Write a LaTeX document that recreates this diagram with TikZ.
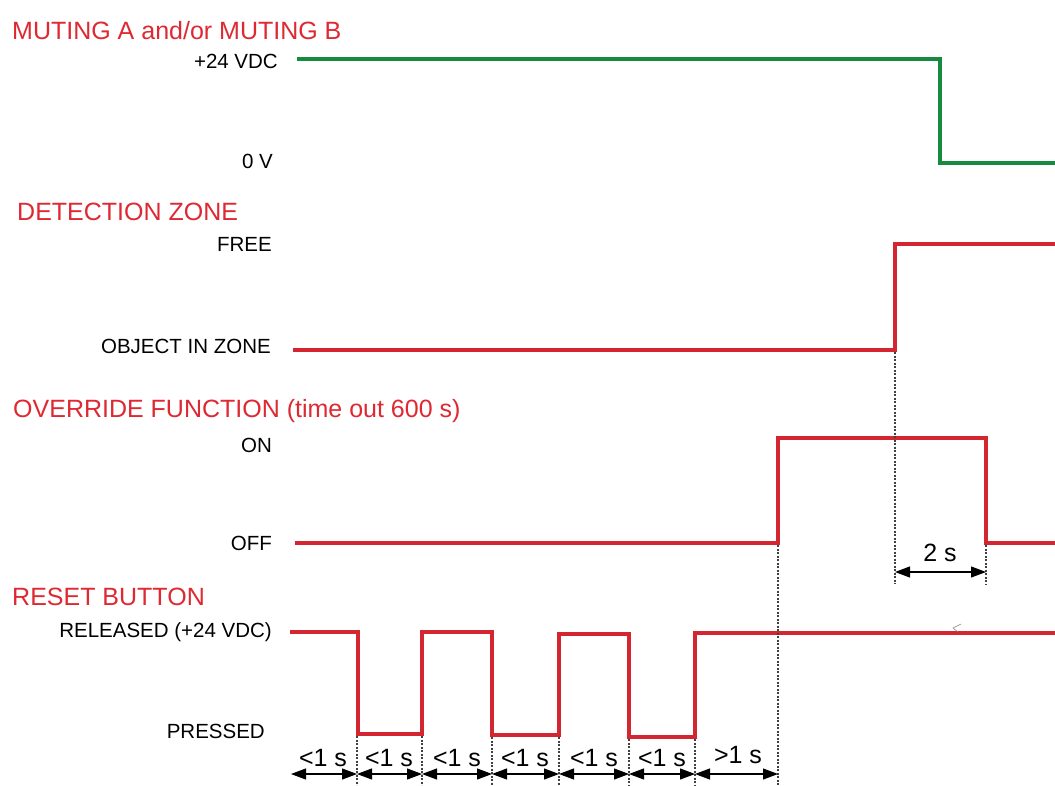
\documentclass[tikz,border=0pt]{standalone}
\usepackage{fontspec}
\setmainfont{Liberation Sans}
\usetikzlibrary{arrows.meta}
\definecolor{sigred}{RGB}{212,38,48}
\definecolor{titred}{RGB}{222,40,50}
\definecolor{siggreen}{RGB}{22,138,62}
\tikzset{
  title/.style={anchor=west,inner sep=0pt,text=titred,font=\fontsize{25}{29}\selectfont},
  lvl/.style={anchor=east,inner sep=0pt,font=\fontsize{20.5}{24}\selectfont},
  redsig/.style={draw=sigred,line width=4.5pt,line join=miter},
  greensig/.style={draw=siggreen,line width=4pt,line join=miter},
  guide/.style={draw=black!75,line width=1.8pt,dash pattern=on 2.2pt off 1.3pt},
  dim/.style={draw=black,line width=1.1pt,{Triangle[length=15pt,width=11pt]}-{Triangle[length=15pt,width=11pt]}},
  dimlab/.style={inner sep=0pt,font=\fontsize{25}{29}\selectfont}
}
\begin{document}
\begin{tikzpicture}[x=1pt,y=-1pt]
\useasboundingbox (0,0) rectangle (1055,785);
% titles
\node[title] (t1) at (12,31) {MUTING A and/or MUTING B};
\node[title] (t2) at (17,212) {DETECTION ZONE};
\node[title] (t3) at (13,411) {OVERRIDE FUNCTION (time out 600 s)};
\node[title] (t4) at (12,597) {RESET BUTTON};
% level labels
\node[lvl] (l1) at (278,61) {+24 VDC};
\node[lvl] (l2) at (273,161) {0 V};
\node[lvl] (l3) at (272,244) {FREE};
\node[lvl] (l4) at (271,346) {OBJECT IN ZONE};
\node[lvl] (l5) at (272,445) {ON};
\node[lvl] (l6) at (272,543) {OFF};
\node[lvl] (l7) at (272,632) {RELEASED (+24 VDC)};
\node[lvl] (l8) at (265,731) {PRESSED};
% signals
\draw[greensig] (297,59) -- (940,59) -- (940,163) -- (1055,163);
\draw[redsig] (293,350) -- (895,350) -- (895,244) -- (1055,244);
\draw[redsig] (295,543) -- (778,543) -- (778,438) -- (986,438) -- (986,543) -- (1055,543);
\draw[redsig] (290,632) -- (358,632) -- (358,734) -- (422,734) -- (422,632) -- (492,632)
  -- (492,735) -- (559,735) -- (559,634) -- (629,634) -- (629,737) -- (695,737)
  -- (695,633) -- (1055,633);
% guide coordinates
\coordinate (p0) at (291,774);
\coordinate (p1) at (357,774);
\coordinate (p2) at (422,774);
\coordinate (p3) at (492,774);
\coordinate (p4) at (559,774);
\coordinate (p5) at (629,774);
\coordinate (p6) at (695,774);
\coordinate (p7) at (778,774);
\coordinate (q1) at (895,572);
\coordinate (q2) at (986,572);
% dotted guides
\draw[guide] (357,736) -- (357,785);
\draw[guide] (422,736) -- (422,785);
\draw[guide] (492,737) -- (492,785);
\draw[guide] (559,737) -- (559,785);
\draw[guide] (629,739) -- (629,785);
\draw[guide] (695,739) -- (695,785);
\draw[guide] (778,545) -- (778,785);
\draw[guide] (895,352) -- (895,584);
\draw[guide] (986,545) -- (986,584);
% dimension arrows
\draw[dim] (p0) -- (p1);
\draw[dim] (p1) -- (p2);
\draw[dim] (p2) -- (p3);
\draw[dim] (p3) -- (p4);
\draw[dim] (p4) -- (p5);
\draw[dim] (p5) -- (p6);
\draw[dim] (p6) -- (p7);
\draw[dim] (q1) -- (q2);
\node[dimlab] (d1) at (323,758) {<1 s};
\node[dimlab] (d2) at (389,758) {<1 s};
\node[dimlab] (d3) at (457,758) {<1 s};
\node[dimlab] (d4) at (525,758) {<1 s};
\node[dimlab] (d5) at (594,758) {<1 s};
\node[dimlab] (d6) at (662,758) {<1 s};
\node[dimlab] (d7) at (738,755) {>1 s};
\node[dimlab] (d8) at (940,553) {2 s};
% stray mark
\draw[black!50,line width=0.5pt] (961,624) -- (953,628) -- (958,632);
\end{tikzpicture}
\end{document}
